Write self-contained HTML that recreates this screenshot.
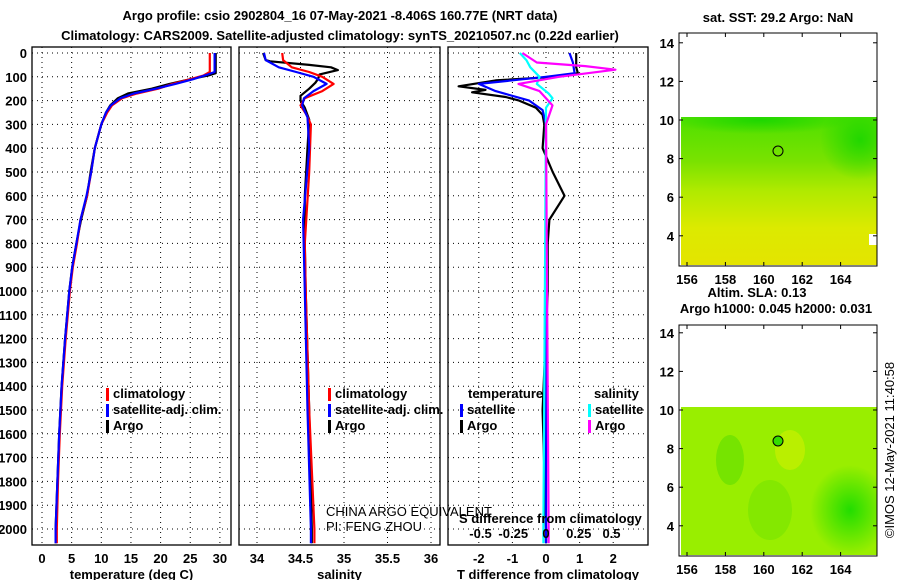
<!DOCTYPE html>
<html><head><meta charset="utf-8"><style>
html,body{margin:0;padding:0;background:#fff;width:900px;height:580px;overflow:hidden}
svg text{font-family:"Liberation Sans",sans-serif;font-weight:bold;font-size:13px;fill:#000}
</style></head><body>
<svg id="c" width="900" height="580" xmlns="http://www.w3.org/2000/svg">
<defs>
<linearGradient id="sstg" x1="0" y1="0" x2="0" y2="1">
<stop offset="0" stop-color="#4ee000"/><stop offset="0.3" stop-color="#7ae200"/><stop offset="0.5" stop-color="#b0ea00"/><stop offset="0.75" stop-color="#dcea00"/><stop offset="1" stop-color="#e4e400"/>
</linearGradient>
<radialGradient id="slab" cx="0.5" cy="0.5" r="0.5"><stop offset="0" stop-color="#22dd00"/><stop offset="1" stop-color="#22dd00" stop-opacity="0"/></radialGradient>
<radialGradient id="sstb" cx="0.5" cy="0.5" r="0.5"><stop offset="0" stop-color="#11d400" stop-opacity="0.8"/><stop offset="1" stop-color="#11d400" stop-opacity="0"/></radialGradient>
<clipPath id="clip1"><rect x="681" y="117" width="196" height="148"/></clipPath>
<clipPath id="clip2"><rect x="681" y="407" width="196" height="148"/></clipPath>
</defs>
<text x="340" y="20" text-anchor="middle" font-size="14">Argo profile: csio 2902804_16 07-May-2021 -8.406S 160.77E (NRT data)</text>
<text x="340" y="40" text-anchor="middle" font-size="14">Climatology: CARS2009. Satellite-adjusted climatology: synTS_20210507.nc (0.22d earlier)</text>
<g id="plots"></g>
<g>
<text x="778" y="22" text-anchor="middle" font-size="12">sat. SST: 29.2 Argo: NaN</text>
<g clip-path="url(#clip1)">
<rect x="681" y="117" width="196" height="148" fill="url(#sstg)"/>
<ellipse cx="860" cy="140" rx="40" ry="40" fill="url(#sstb)"/>
<ellipse cx="760" cy="120" rx="90" ry="14" fill="url(#sstb)"/>
</g>
<rect x="869" y="234" width="8" height="11" fill="#fff"/>
<circle cx="778" cy="151" r="5" fill="none" stroke="#000"/>
<rect x="679" y="33" width="198" height="233" fill="none" stroke="#000"/>
</g>
<g>
<text x="757" y="297" text-anchor="middle" font-size="12">Altim. SLA: 0.13</text>
<text x="776" y="313" text-anchor="middle" font-size="12">Argo h1000: 0.045 h2000: 0.031</text>
<g clip-path="url(#clip2)">
<rect x="681" y="407" width="196" height="148" fill="#99ee00"/>
<ellipse cx="850" cy="510" rx="40" ry="45" fill="url(#slab)"/>
<ellipse cx="730" cy="460" rx="14" ry="25" fill="#66e000" opacity="0.7"/>
<ellipse cx="770" cy="510" rx="22" ry="30" fill="#77e400" opacity="0.6"/>
<ellipse cx="790" cy="450" rx="15" ry="20" fill="#c8f000" opacity="0.7"/>
</g>
<circle cx="778" cy="441" r="5" fill="#33dd00" stroke="#000"/>
<rect x="679" y="325" width="198" height="231" fill="none" stroke="#000"/>
</g>
<text transform="translate(894,450) rotate(-90)" text-anchor="middle" font-size="12" style="font-weight:normal">©IMOS 12-May-2021 11:40:58</text>
</svg>
<script>
const depthTicks=[0,100,200,300,400,500,600,700,800,900,1000,1100,1200,1300,1400,1500,1600,1700,1800,1900,2000];
const tempTicks=[0,5,10,15,20,25,30];
const salTicks=[34,34.5,35,35.5,36];
const salTickLabels=["34","34.5","35","35.5","36"];
const tdTicks=[-2,-1,0,1,2];
const sdTicks=[-0.5,-0.25,0,0.25,0.5];
const latTicks=[4,6,8,10,12,14];
const lonTicks=[156,158,160,162,164];

const tClimDepth=[0,80,95,110,130,150,170,190,220,250,300,400,500,600,700,800,900,1000,1200,1400,1600,1800,2000,2060];
const tClimVal=[28.3,28.3,27.2,25,22,19.6,16,13.5,11.8,11,10,8.9,8.3,7.6,6.5,5.9,5.2,4.7,4.0,3.4,3.0,2.7,2.5,2.5];
const tSatDepth=[0,80,90,110,130,150,170,190,220,250,300,400,500,600,700,800,900,1000,1200,1400,1600,1800,2000,2060];
const tSatVal=[29.1,29.1,28,25.5,22.5,19.2,15.5,13.2,11.6,10.8,10,8.9,8.3,7.5,6.5,5.8,5.1,4.6,3.9,3.3,2.9,2.6,2.3,2.3];
const tArgoDepth=[0,85,95,110,130,150,170,190,220,250,300,400,500,600,700,800,900,1000,1200,1400,1600,1800,2000,2060];
const tArgoVal=[29.3,29.3,28,25,21.5,18.5,14.5,12.8,11.5,10.8,10,8.9,8.2,7.6,6.6,5.8,5.1,4.6,3.9,3.3,2.9,2.6,2.3,2.3];

const sClimDepth=[0,30,60,80,100,130,160,190,220,260,300,500,800,1000,1500,2000,2060];
const sClimVal=[34.29,34.3,34.4,34.6,34.75,34.88,34.75,34.55,34.5,34.57,34.62,34.6,34.55,34.56,34.6,34.66,34.66];
const sSatDepth=[0,30,60,80,100,130,160,190,220,270,400,700,1000,1500,2000,2060];
const sSatVal=[34.08,34.1,34.25,34.45,34.65,34.8,34.65,34.54,34.52,34.58,34.6,34.53,34.55,34.58,34.62,34.62];
const sArgoDepth=[0,30,35,50,60,72,90,110,125,150,180,200,230,280,400,600,800,1000,1500,2000,2060];
const sArgoVal=[34.07,34.1,34.15,34.6,34.85,34.93,34.72,34.7,34.67,34.6,34.5,34.5,34.55,34.6,34.58,34.55,34.55,34.56,34.6,34.63,34.63];

const dtArgoDepth=[0,60,85,100,115,140,155,165,185,200,230,260,300,400,500,600,700,800,1000,1500,2000,2060];
const dtArgoVal=[0.9,0.9,0.95,0.3,-1.5,-2.6,-1.8,-2.2,-1.2,-0.8,-0.3,-0.1,-0.05,-0.1,0.2,0.55,0.1,0.05,0.05,-0.1,0,0];
const dtSatDepth=[0,40,85,100,130,160,200,240,300,2000,2060];
const dtSatVal=[0.7,0.8,0.85,0,-2.0,-1.5,-0.5,-0.1,0,0,0];
const dsArgoDepth=[0,40,55,70,100,130,160,190,220,300,2000,2060];
const dsArgoVal=[-0.18,-0.07,0.3,0.53,0.1,-0.21,-0.05,0,0.05,0,0.02,0.02];
const dsSatDepth=[0,30,60,100,130,170,190,230,2000,2060];
const dsSatVal=[-0.2,-0.15,-0.12,-0.05,-0.07,0.02,0.05,0,-0.02,-0.02];

const NS="http://www.w3.org/2000/svg";
const yD=d=>53+d*0.238;
const xT=v=>42+v*5.93;
const xS=v=>257+(v-34)*87;
const xDT=v=>546+v*33.6;
const xDS=v=>546+v*131;
const TOP=47,BOT=545;
const g=document.getElementById('plots');
function el(tag,attrs,parent){const e=document.createElementNS(NS,tag);for(const k in attrs)e.setAttribute(k,attrs[k]);(parent||g).appendChild(e);return e;}
function txt(x,y,s,anchor,parent,size){const t=el('text',{x:x,y:y,'text-anchor':anchor||'start'},parent);if(size)t.setAttribute('font-size',size);t.textContent=s;return t;}

function panel(name,x0,x1,ticks,labels,xf,title){
  const p=el('g',{});
  
  
  depthTicks.forEach(d=>{el('line',{x1:x0,x2:x1,y1:yD(d),y2:yD(d),stroke:'#000','stroke-dasharray':'1,4'},p);});
  ticks.forEach((v,i)=>{const x=xf(v);el('line',{x1:x,x2:x,y1:TOP,y2:BOT,stroke:'#000','stroke-dasharray':'1,4'},p);
    const t=txt(x,563,labels[i],'middle',p,12);
    
    });
  el('rect',{x:x0,y:TOP,width:x1-x0,height:BOT-TOP,fill:'none',stroke:'#000','stroke-width':1.3},p);
  const tt=txt((x0+x1)/2,579,title,'middle',p,12);
  
  
  return p;
}
function line(p,name,D,V,xf,color,w){
  const d=D.map((dd,i)=>(i?'L':'M')+xf(V[i]).toFixed(1)+','+yD(dd).toFixed(1)).join('');
  const e=el('path',{d:d,fill:'none',stroke:color,'stroke-width':w||2.2,'stroke-linejoin':'round'},p);
  
  
}
function legend(p,x,y,color,label){
  const m=el('rect',{x:x,y:y-10,width:3,height:13,fill:color},p);
  
  
  const t=txt(x+7,y,label,'start',p,12);
  
  
}
depthTicks.forEach(d=>{const t=txt(27,yD(d)+5,String(d),'end',g,12);
  
  });

const p1=panel('temperature-panel',32,231,tempTicks,tempTicks.map(String),xT,'temperature (deg C)');
line(p1,'temp-argo',tArgoDepth,tArgoVal,xT,'#000');
line(p1,'temp-climatology',tClimDepth,tClimVal,xT,'#f00');
line(p1,'temp-satellite',tSatDepth,tSatVal,xT,'#00f');
legend(p1,106,398,'#f00','climatology');
legend(p1,106,414,'#00f','satellite-adj. clim.');
legend(p1,106,430,'#000','Argo');

const p2=panel('salinity-panel',239,440,salTicks,salTickLabels,xS,'salinity');
line(p2,'sal-argo',sArgoDepth,sArgoVal,xS,'#000');
line(p2,'sal-climatology',sClimDepth,sClimVal,xS,'#f00');
line(p2,'sal-satellite',sSatDepth,sSatVal,xS,'#00f');
legend(p2,328,398,'#f00','climatology');
legend(p2,328,414,'#00f','satellite-adj. clim.');
legend(p2,328,430,'#000','Argo');
const c1=txt(326,516,'CHINA ARGO EQUIVALENT','start',p2,12);c1.style.fontWeight='normal';


const c2=txt(326,531,'PI: FENG ZHOU','start',p2,12);c2.style.fontWeight='normal';



const p3=panel('difference-panel',448,648,tdTicks,tdTicks.map(String),xDT,'T difference from climatology');
line(p3,'dt-argo',dtArgoDepth,dtArgoVal,xDT,'#000');
line(p3,'dt-satellite',dtSatDepth,dtSatVal,xDT,'#00f');
line(p3,'ds-satellite',dsSatDepth,dsSatVal,xDS,'#00ffff');
line(p3,'ds-argo',dsArgoDepth,dsArgoVal,xDS,'#ff00ff');
const lt=txt(468,398,'temperature','start',p3,12);


const ls=txt(594,398,'salinity','start',p3,12);


legend(p3,460,414,'#00f','satellite');
legend(p3,460,430,'#000','Argo');
legend(p3,588,414,'#00ffff','satellite');
legend(p3,588,430,'#ff00ff','Argo');
const st=txt(459,523,'S difference from climatology','start',p3,12);


sdTicks.forEach(v=>{const t=txt(xDS(v),538,String(v),'middle',p3,12);
  
  });

const svg=document.getElementById('c');
function mapAxes(y10,y0,y1){
  const ax=el('g',{},svg);
  
  
  latTicks.forEach(v=>{const y=y10-(v-10)*19.3;
    el('line',{x1:679,x2:683,y1:y,y2:y,stroke:'#000'},ax);el('line',{x1:873,x2:877,y1:y,y2:y,stroke:'#000'},ax);
    txt(674,y+5,String(v),'end',ax,13);});
  lonTicks.forEach(v=>{const x=687+(v-156)*19.2;
    el('line',{x1:x,x2:x,y1:y0,y2:y0+4,stroke:'#000'},ax);el('line',{x1:x,x2:x,y1:y1-4,y2:y1,stroke:'#000'},ax);
    txt(x,y1+18,String(v),'middle',ax,13);});
}
mapAxes(120,33,266);
mapAxes(410,325,556);
</script>
</body></html>
